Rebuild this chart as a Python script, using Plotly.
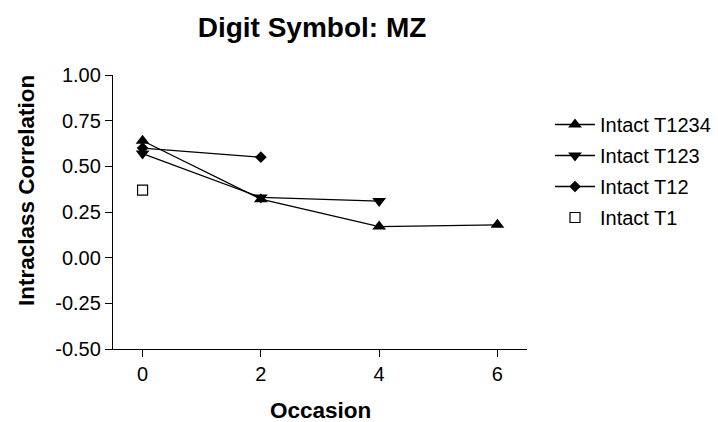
import plotly.graph_objects as go

occasion = [0, 2, 4, 6]
t1234 = [0.64, 0.32, 0.17, 0.18]
t123 = [0.57, 0.33, 0.31]
t12 = [0.60, 0.55]
t1 = [0.37]

names = ["Intact T1234", "Intact T123", "Intact T12", "Intact T1"]
y_ticks = [-0.5, -0.25, 0, 0.25, 0.5, 0.75, 1.0]
y_tick_text = ["-0.50", "-0.25", "0.00", "0.25", "0.50", "0.75", "1.00"]
x_ticks = [0, 2, 4, 6]

font = "Liberation Sans, Arial, sans-serif"
line = dict(color="black", width=1.3)

fig = go.Figure()
fig.add_trace(go.Scatter(x=occasion[:4], y=t1234, name=names[0], legendgroup="a",
                         mode="lines+markers", line=line,
                         marker=dict(symbol="triangle-up", size=12, color="black")))
fig.add_trace(go.Scatter(x=occasion[:3], y=t123, name=names[1], legendgroup="b",
                         mode="lines+markers", line=line,
                         marker=dict(symbol="triangle-down", size=12, color="black")))
fig.add_trace(go.Scatter(x=occasion[:2], y=t12, name=names[2], legendgroup="c",
                         mode="lines+markers", line=line,
                         marker=dict(symbol="diamond", size=9, color="black")))
fig.add_trace(go.Scatter(x=occasion[:1], y=t1, name=names[3], legendgroup="d",
                         mode="markers",
                         marker=dict(symbol="square-open", size=10, color="black",
                                     line=dict(width=1.2))))

W, H = 718, 422
L, R, T, B = 113, 191, 75, 73
PW, PH = W - L - R, H - T - B

fig.update_layout(
    width=W, height=H,
    margin=dict(l=L, r=R, t=T, b=B, autoexpand=False),
    paper_bgcolor="white", plot_bgcolor="white",
    font=dict(family=font, color="black", size=20),
    title=dict(text="<b>Digit Symbol: MZ</b>", x=312 / W, xanchor="center",
               y=1 - 27 / H, yanchor="middle", font=dict(size=28)),
    xaxis=dict(range=[-0.5, 6.5], tickvals=x_ticks, showgrid=False, zeroline=False,
               showline=True, linecolor="black", linewidth=1.3, ticks="outside",
               ticklen=7, tickcolor="black", tickwidth=1.3),
    yaxis=dict(range=[-0.5, 1.0], tickvals=y_ticks, ticktext=y_tick_text,
               showgrid=False, zeroline=False,
               showline=True, linecolor="black", linewidth=1.3, ticks="outside",
               ticklen=7, tickcolor="black", tickwidth=1.3),
    legend=dict(x=(550 - L) / PW, y=1 - (105 - T) / PH,
                xanchor="left", yanchor="top",
                font=dict(size=20), tracegroupgap=2, itemwidth=40,
                bgcolor="rgba(0,0,0,0)"),
    annotations=[
        dict(text="<b>Occasion</b>", xref="paper", yref="paper",
             x=(320 - L) / PW, y=-(410 - (H - B)) / PH,
             xanchor="center", yanchor="middle", showarrow=False,
             font=dict(size=22.5)),
        dict(text="<b>Intraclass Correlation</b>", xref="paper", yref="paper",
             x=-(L - 26) / PW, y=1 - (191 - T) / PH,
             xanchor="center", yanchor="middle", showarrow=False, textangle=-90,
             font=dict(size=22.5)),
    ],
)

fig.write_html("out.html")
